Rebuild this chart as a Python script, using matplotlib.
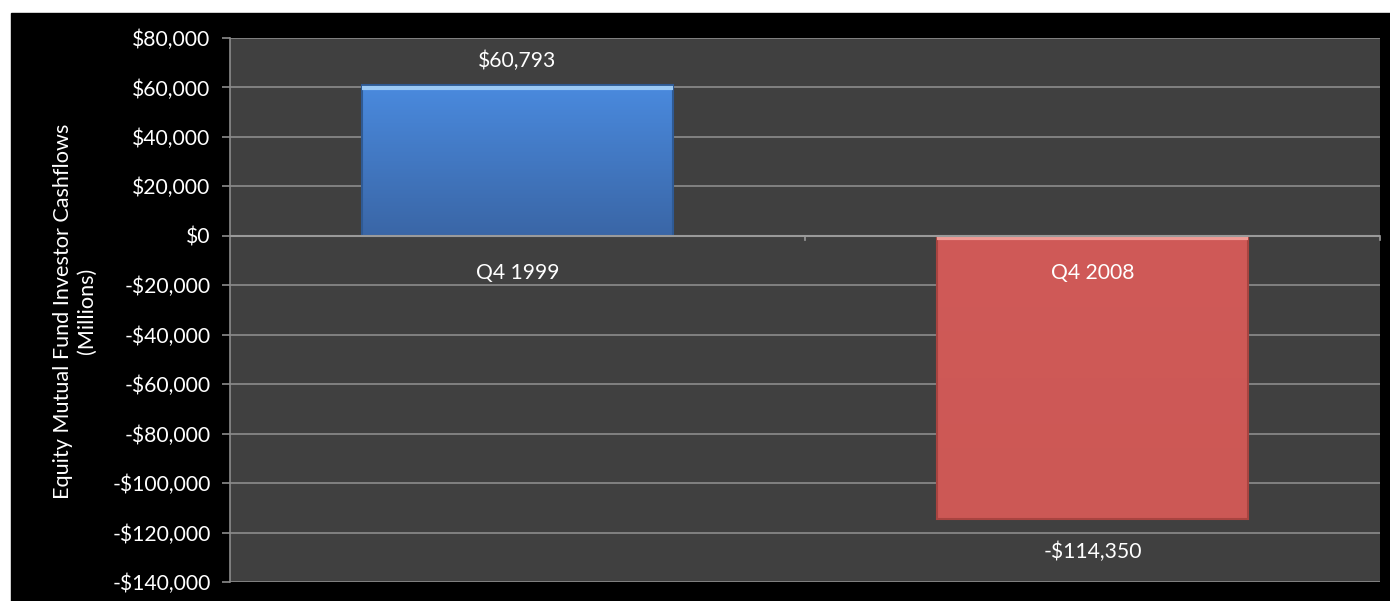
import numpy as np
import matplotlib
matplotlib.use("Agg")
import matplotlib.pyplot as plt
from matplotlib.colors import LinearSegmentedColormap

plt.rcParams['font.family'] = ['Lato', 'DejaVu Sans']

# data
categories = ['Q4 1999', 'Q4 2008']
values = [60793, -114350]
value_labels = ['$60,793', '-$114,350']
yticks = list(range(-140000, 80001, 20000))

def money(v):
    return ('-$' if v < 0 else '$') + format(abs(v), ',')

FS = 15.2

fig = plt.figure(figsize=(13.9, 6.01), dpi=100)
fig.patch.set_facecolor('white')
# black panel under the chart (top strip stays white like the clipped caption)
panel = plt.Rectangle((11 / 1390, 0), 1 - 11 / 1390, 1 - 13 / 601,
                      transform=fig.transFigure, color='black', zorder=-5)
fig.add_artist(panel)

ax = fig.add_axes([230 / 1390, 1 - 582 / 601, 1150 / 1390, 544 / 601])
ax.set_zorder(2)
ax.set_facecolor('#404040')
ax.set_xlim(-0.5, 1.5)
ax.set_ylim(-140000, 80000)
ax.set_yticks(yticks)
ax.set_yticklabels([money(v) for v in yticks], color='white', fontsize=FS)
ax.set_xticks([])
ax.grid(axis='y', color='#8c8c8c', linewidth=1.2)
ax.set_axisbelow(True)
for s in ['top', 'right', 'bottom']:
    ax.spines[s].set_visible(False)
ax.spines['left'].set_color('#8c8c8c')
ax.spines['left'].set_linewidth(1.2)
ax.tick_params(axis='y', colors='#8c8c8c', length=6, width=1.2, labelcolor='white', pad=8)

# zero axis with category boundary ticks
ax.axhline(0, color='#9a9a9a', linewidth=1.5, zorder=3)
for xb in [0.5, 1.5]:
    ax.plot([xb, xb], [0, -1800], color='#9a9a9a', linewidth=1.2, zorder=3, clip_on=False)

width = 0.54
grads = [('#4a8ade', '#3a66a6', '#2f5a94'), ('#d05a58', '#cc5855', '#a84440')]
for i, v in enumerate(values):
    top_c, bot_c, edge_c = grads[i]
    x0, x1 = i - width / 2, i + width / 2
    y0, y1 = min(0, v), max(0, v)
    cmap = LinearSegmentedColormap.from_list('g', [bot_c, top_c])
    grad = np.linspace(0, 1, 256).reshape(-1, 1)
    ax.imshow(grad, extent=[x0, x1, y0, y1], origin='lower', cmap=cmap,
              aspect='auto', zorder=2)
    ax.bar(i, v, width=width, facecolor='none', edgecolor=edge_c, linewidth=1.5, zorder=2.5)
    # light bevel at the top
    ax.plot([x0, x1], [y1 - 900, y1 - 900], color='#9ccaf5' if v > 0 else '#f09a94',
            linewidth=3, zorder=2.6, solid_capstyle='butt')

ax.set_xlim(-0.5, 1.5)
ax.set_ylim(-140000, 80000)

# category labels near zero axis
ax.text(0, -15000, categories[0], ha='center', va='center', color='white', fontsize=FS)
ax.text(1, -15000, categories[1], ha='center', va='center', color='white', fontsize=FS)

# data labels
ax.text(0, values[0] + 10000, value_labels[0], ha='center', va='center', color='white', fontsize=FS)
ax.text(1, values[1] - 13500, value_labels[1], ha='center', va='center', color='white', fontsize=FS)

fig.text(75 / 1390, 1 - 311 / 601, 'Equity Mutual Fund Investor Cashflows\n(Millions)',
         rotation=90, ha='center', va='center', color='white', fontsize=FS + 0.4,
         multialignment='center', linespacing=1.25)

fig.savefig('out.png', dpi=100, facecolor=fig.get_facecolor())
